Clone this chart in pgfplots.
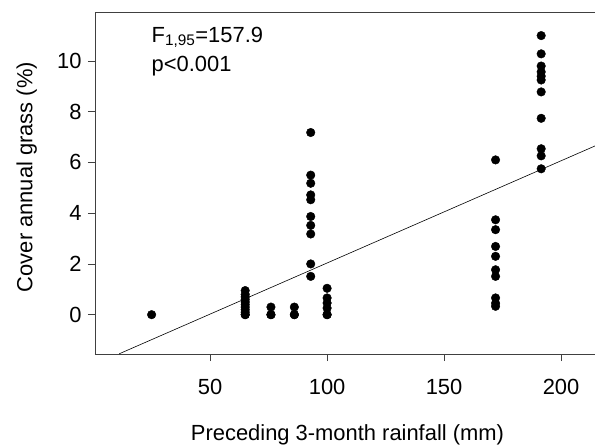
\documentclass[border=0pt]{standalone}
\usepackage{pgfplots}
\pgfplotsset{compat=1.18}
\usepackage{fontspec}
\setmainfont{Liberation Sans}
\begin{document}
\begin{tikzpicture}
\begin{axis}[
  scale only axis, width=500bp, height=342bp,
  xmin=0.8, xmax=214.5, ymin=-1.55, ymax=11.93,
  axis y line*=left, axis x line*=box,
  xtick pos=bottom, ytick pos=left,
  tick align=outside, major tick length=7bp,
  xtick={50,100,150,200}, ytick={0,2,4,6,8,10},
  axis line style={draw=black!75, line width=0.8pt},
  every tick/.style={draw=black!75, line width=0.7pt},
  /pgf/number format/assume math mode=true,
  tick label style={font=\fontsize{22}{26}\selectfont},
  label style={font=\fontsize{22}{26}\selectfont},
  xlabel={Preceding 3-month rainfall (mm)},
  ylabel={Cover annual grass (\%)},
  xlabel style={at={(axis description cs:0.505,0)}, anchor=base, yshift=-86bp},
  ylabel style={at={(axis description cs:-0.164,0.5175)}, anchor=north},
  xticklabel style={yshift=-15bp},
  yticklabel style={xshift=-3bp},
  clip=true,
]
\addplot[only marks, mark=*, mark size=4.3bp, black] coordinates {
(25,0)
(65,0) (65,0) (65,0.1) (65,0.2) (65,0.3) (65,0.4) (65,0.5) (65,0.6) (65,0.7) (65,0.8) (65,0.95)
(76,0) (76,0) (76,0.3)
(86,0) (86,0) (86,0.3)
(93,7.18) (93,5.5) (93,5.18) (93,4.72) (93,4.53) (93,3.87) (93,3.52) (93,3.18) (93,2.0) (93,1.51)
(100,1.04) (100,0.66) (100,0.46) (100,0.26) (100,0) (100,0)
(172,6.1) (172,3.74) (172,3.35) (172,2.69) (172,2.3) (172,1.77) (172,1.51) (172,0.66) (172,0.45) (172,0.33)
(191.5,11.0) (191.5,10.28) (191.5,9.8) (191.5,9.57) (191.5,9.4) (191.5,9.25) (191.5,8.78) (191.5,7.74) (191.5,6.54) (191.5,6.26) (191.5,5.75)
};
\addplot[black, line width=0.6pt] coordinates {(11.2,-1.54) (215,6.67)};
\node[anchor=base west, font=\fontsize{22}{26}\selectfont, inner sep=0pt] at (rel axis cs:0.113,0.912) {F\textsubscript{1,95}=157.9};
\node[anchor=base west, font=\fontsize{22}{26}\selectfont, inner sep=0pt] at (rel axis cs:0.113,0.8246) {p<0.001};
\end{axis}
\pgfresetboundingbox
\path ([shift={(-95bp,-92bp)}]current axis.south west) rectangle ([shift={(0bp,12bp)}]current axis.north east);
\end{tikzpicture}
\end{document}
